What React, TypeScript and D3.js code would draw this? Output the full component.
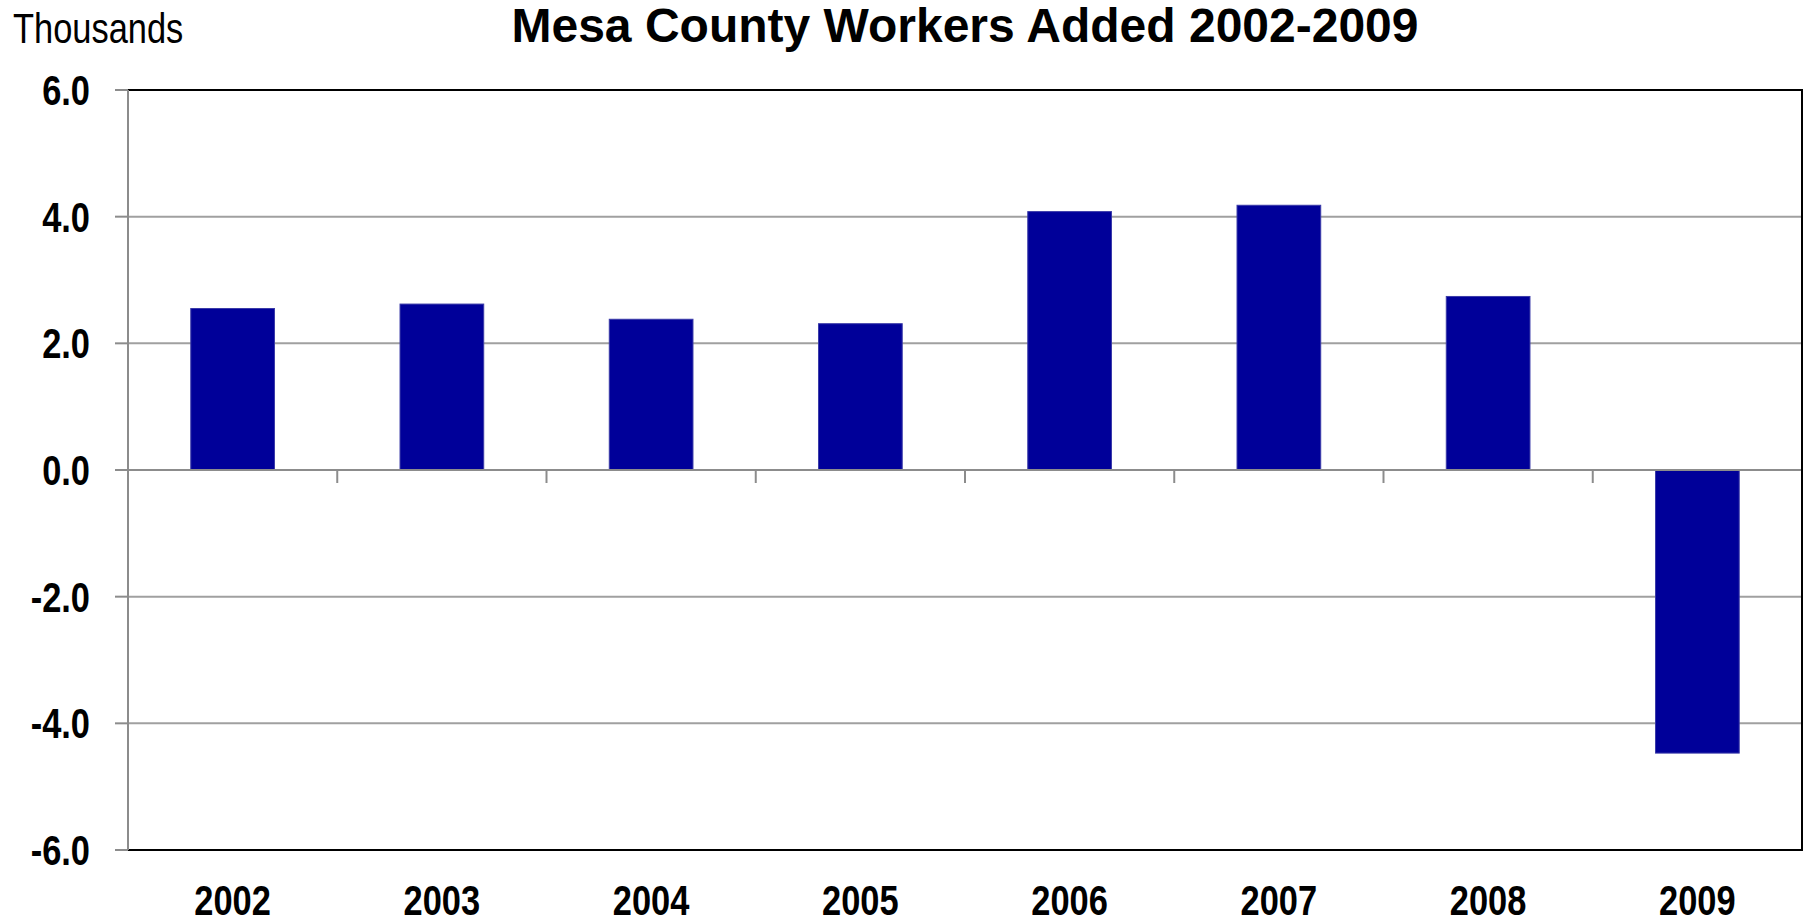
import React, { useEffect, useRef } from "react";
import * as d3 from "d3";

const years = ["2002", "2003", "2004", "2005", "2006", "2007", "2008", "2009"];
const workersAdded = [2.55, 2.62, 2.38, 2.31, 4.08, 4.18, 2.74, -4.47];
const yTicks = [-6, -4, -2, 0, 2, 4, 6];

const FONT = "'Liberation Sans', Arial, sans-serif";
// no narrow face installed, so squeeze the regular one horizontally
const NARROW = 0.82;

function WorkersChart() {
  const ref = useRef<HTMLDivElement>(null);

  useEffect(() => {
    const width = 1808;
    const height = 921;
    const left = 128;
    const right = 1802;
    const top = 90;
    const bottom = 850;

    d3.select(ref.current).select("svg").remove();

    const svg = d3
      .select(ref.current)
      .append("svg")
      .attr("width", width)
      .attr("height", height)
      .style("display", "block")
      .style("background", "#fff");

    const x = d3.scaleBand().domain(years).range([left, right]).paddingInner(0.6).paddingOuter(0.3);
    const xb = d3.scaleBand().domain(years).range([left, right]);
    const y = d3.scaleLinear().domain([-6, 6]).range([bottom, top]);
    const fmt = (d: number) => d3.format(".1f")(d).replace("−", "-");

    // gridlines
    svg
      .selectAll("line.grid")
      .data(yTicks.filter((d) => d !== 6 && d !== -6 && d !== 0))
      .enter()
      .append("line")
      .attr("x1", left)
      .attr("x2", right)
      .attr("y1", (d) => y(d))
      .attr("y2", (d) => y(d))
      .attr("stroke", "#a0a0a0")
      .attr("stroke-width", 2);

    // bars
    svg
      .selectAll("rect.bar")
      .data(workersAdded)
      .enter()
      .append("rect")
      .attr("x", (d, i) => x(years[i])!)
      .attr("width", x.bandwidth())
      .attr("y", (d) => y(Math.max(0, d)))
      .attr("height", (d) => Math.abs(y(d) - y(0)))
      .attr("fill", "#000099")
      .attr("stroke", "#3a3aa8")
      .attr("stroke-width", 1);

    // zero line + category ticks
    svg
      .append("line")
      .attr("x1", left)
      .attr("x2", right)
      .attr("y1", y(0))
      .attr("y2", y(0))
      .attr("stroke", "#8c8c8c")
      .attr("stroke-width", 2);
    svg
      .selectAll("line.xtick")
      .data(years.slice(1))
      .enter()
      .append("line")
      .attr("x1", (d) => xb(d)!)
      .attr("x2", (d) => xb(d)!)
      .attr("y1", y(0))
      .attr("y2", y(0) + 13)
      .attr("stroke", "#8c8c8c")
      .attr("stroke-width", 2);

    // frame: top, right, bottom black
    svg
      .append("path")
      .attr("d", `M${left},${top}H${right}V${bottom}H${left}`)
      .attr("fill", "none")
      .attr("stroke", "#000")
      .attr("stroke-width", 2);

    // y axis (gray)
    svg
      .append("line")
      .attr("x1", left)
      .attr("x2", left)
      .attr("y1", top)
      .attr("y2", bottom)
      .attr("stroke", "#8c8c8c")
      .attr("stroke-width", 2);
    svg
      .selectAll("line.ytick")
      .data(yTicks)
      .enter()
      .append("line")
      .attr("x1", left - 13)
      .attr("x2", left)
      .attr("y1", (d) => y(d))
      .attr("y2", (d) => y(d))
      .attr("stroke", "#8c8c8c")
      .attr("stroke-width", 2);

    svg
      .selectAll("text.ylab")
      .data(yTicks)
      .enter()
      .append("text")
      .attr("transform", (d) => `translate(90,${y(d)}) scale(${NARROW},1)`)
      .attr("dy", "0.36em")
      .attr("text-anchor", "end")
      .attr("font-family", FONT)
      .attr("font-weight", "bold")
      .attr("font-size", 42)
      .text((d) => fmt(d));

    svg
      .selectAll("text.xlab")
      .data(years)
      .enter()
      .append("text")
      .attr("transform", (d) => `translate(${xb(d)! + xb.bandwidth() / 2},915) scale(${NARROW},1)`)
      .attr("text-anchor", "middle")
      .attr("font-family", FONT)
      .attr("font-weight", "bold")
      .attr("font-size", 42)
      .text((d) => d);

    svg
      .append("text")
      .attr("x", 965)
      .attr("y", 42)
      .attr("text-anchor", "middle")
      .attr("font-family", FONT)
      .attr("font-weight", "bold")
      .attr("font-size", 48)
      .text("Mesa County Workers Added 2002-2009");

    svg
      .append("text")
      .attr("transform", `translate(13,43) scale(${NARROW},1)`)
      .attr("font-family", FONT)
      .attr("font-size", 42)
      .text("Thousands");
  }, []);

  return <div ref={ref} style={{ position: "fixed", left: 0, top: 0 }}></div>;
}

export default function App() {
  return <WorkersChart />;
}
